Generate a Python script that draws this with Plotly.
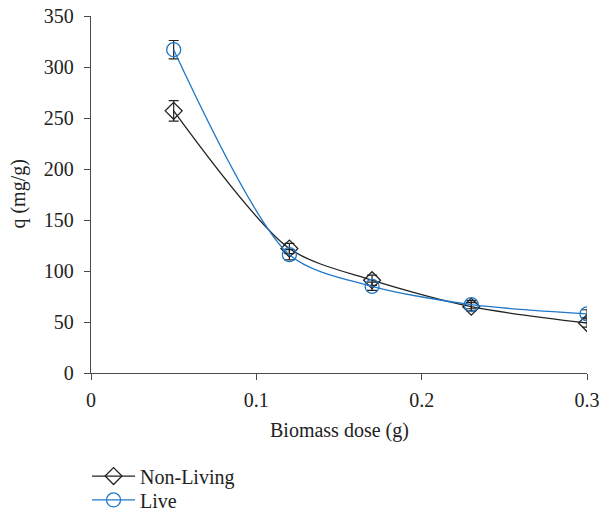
import plotly.graph_objects as go

dose = [0.05, 0.12, 0.17, 0.23, 0.3]
nonliving = [257, 122, 91, 65, 49]
nonliving_err = [10, 5, 5, 4, 4]
live = [317, 116, 85, 67, 58]
live_err = [9, 5, 4, 4, 4]

x_ticks = [0, 0.1, 0.2, 0.3]
x_ticktext = ["0", "0.1", "0.2", "0.3"]
y_ticks = [0, 50, 100, 150, 200, 250, 300, 350]

font_family = "Liberation Serif"
blue = "#1f78c8"
ink = "#222222"

fig = go.Figure()
fig.add_trace(go.Scatter(
    x=dose, y=nonliving, name="Non-Living", mode="lines+markers", legend="legend",
    line=dict(color=ink, width=1.3, shape="spline", smoothing=0.8),
    marker=dict(symbol="diamond-open", size=13, color=ink, line=dict(width=1.3)),
    error_y=dict(type="data", array=nonliving_err, color=ink, thickness=1.2, width=5),
))
fig.add_trace(go.Scatter(
    x=dose, y=live, name="Live", mode="lines+markers", legend="legend2",
    line=dict(color=blue, width=1.3, shape="spline", smoothing=0.8),
    marker=dict(symbol="circle-open", size=14, color=blue, line=dict(width=1.3)),
    error_y=dict(type="data", array=live_err, color=ink, thickness=1.2, width=5),
))

axis_common = dict(showgrid=False, zeroline=False, showline=True, linecolor="#4a4a4a",
                   linewidth=1.3, ticks="outside", ticklen=6, tickcolor="#4a4a4a",
                   automargin=False, ticklabeloverflow="allow",
                   tickfont=dict(size=20, color=ink))

legend_common = dict(x=-0.008, xanchor="left", yanchor="top", font=dict(size=20),
                     itemwidth=43, bgcolor="rgba(0,0,0,0)")

fig.update_layout(
    width=610, height=513,
    margin=dict(l=91, r=23, t=16, b=140, autoexpand=False),
    paper_bgcolor="white", plot_bgcolor="white",
    font=dict(family=font_family, size=20, color=ink),
    showlegend=True, hovermode=False,
    legend=dict(y=-0.234, **legend_common),
    legend2=dict(y=-0.301, **legend_common),
    xaxis=dict(range=[0, 0.3], tickvals=x_ticks, ticktext=x_ticktext,
               ticklabelstandoff=3, **axis_common),
    yaxis=dict(range=[0, 350], tickvals=y_ticks, ticklabelstandoff=6, **axis_common),
    annotations=[
        dict(text="Biomass dose (g)", xref="paper", yref="paper", x=0.5, y=-0.16,
             xanchor="center", yanchor="middle", showarrow=False, font=dict(size=20)),
        dict(text="q (mg/g)", xref="paper", yref="paper", x=-0.147, y=0.5,
             xanchor="center", yanchor="middle", textangle=-90, showarrow=False,
             font=dict(size=20)),
    ],
)

fig.write_html("out.html", config={"displayModeBar": False},
               post_script="document.body.style.margin='0';")
